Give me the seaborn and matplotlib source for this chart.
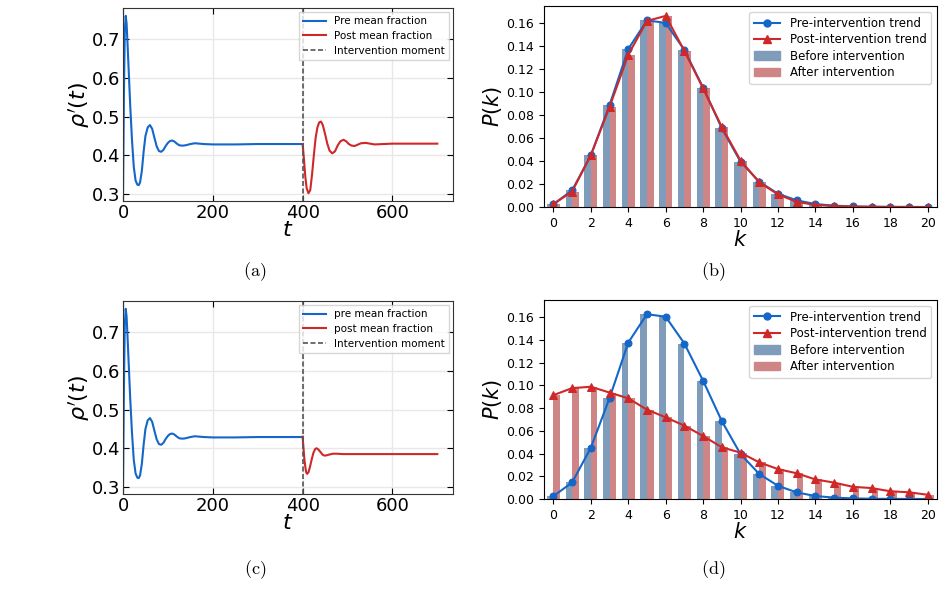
import numpy as np
import pandas as pd
import seaborn as sns
import matplotlib
matplotlib.use('Agg')
from matplotlib import pyplot as plt
from matplotlib.lines import Line2D
from matplotlib.patches import Patch

# time series (mean fraction rho'(t))
pre_t = [0, 2, 4, 6, 8, 10, 13, 16, 20, 24, 28, 32, 35, 38, 42, 46, 50, 55, 60, 65,
         70, 75, 80, 85, 90, 95, 100, 105, 110, 115, 120, 125, 130, 135, 140, 150,
         160, 170, 180, 200, 250, 300, 350, 400]
pre_v = [0.29, 0.55, 0.72, 0.76, 0.74, 0.69, 0.61, 0.53, 0.44, 0.37, 0.335, 0.324, 0.323,
         0.33, 0.36, 0.41, 0.45, 0.472, 0.478, 0.468, 0.445, 0.423, 0.411, 0.409, 0.414,
         0.424, 0.432, 0.437, 0.438, 0.435, 0.43, 0.426, 0.425, 0.425, 0.426, 0.429,
         0.431, 0.430, 0.429, 0.428, 0.428, 0.429, 0.429, 0.429]

post_t_a = [400, 403, 406, 409, 413, 417, 421, 425, 429, 433, 437, 441, 445, 450, 455,
            460, 466, 472, 478, 484, 491, 497, 503, 509, 516, 522, 530, 541, 550, 560,
            580, 600, 700]
post_v_a = [0.429, 0.39, 0.345, 0.315, 0.302, 0.31, 0.35, 0.40, 0.445, 0.472, 0.485,
            0.487, 0.478, 0.455, 0.43, 0.412, 0.405, 0.41, 0.425, 0.436, 0.44, 0.436,
            0.429, 0.425, 0.424, 0.427, 0.431, 0.432, 0.43, 0.428, 0.429, 0.43, 0.43]

post_t_c = [400, 402, 404, 406, 408, 410, 413, 416, 420, 424, 428, 431, 435, 440, 445,
            449, 454, 460, 468, 476, 490, 520, 600, 700]
post_v_c = [0.430, 0.40, 0.372, 0.352, 0.338, 0.334, 0.338, 0.35, 0.37, 0.388, 0.398,
            0.40, 0.397, 0.39, 0.383, 0.381, 0.382, 0.384, 0.386, 0.386, 0.385, 0.385,
            0.385, 0.385]

# degree distributions P(k)
k = list(range(21))
pk_before = [0.0025, 0.0145, 0.045, 0.0887, 0.1375, 0.1625, 0.1603, 0.1367, 0.104, 0.0685,
             0.0395, 0.022, 0.0116, 0.0058, 0.0026, 0.0012, 0.0005, 0.0002, 0.0001,
             0.00005, 0.00002]
pk_after_b = [0.0025, 0.0135, 0.045, 0.087, 0.1325, 0.162, 0.1664, 0.136, 0.1033, 0.0698,
              0.0405, 0.0215, 0.011, 0.0045, 0.0018, 0.0008, 0.0004, 0.0002, 0.0001,
              0.00005, 0.00002]
pk_after_d = [0.0913, 0.0975, 0.0987, 0.0936, 0.0885, 0.0786, 0.0718, 0.0645, 0.0554,
              0.0455, 0.0407, 0.0322, 0.0263, 0.0226, 0.0172, 0.0144, 0.0107, 0.0096,
              0.0068, 0.0059, 0.0037]

blue_line = '#1466c8'
red_line = '#d02828'
blue_bar = '#7f9dba'
red_bar = '#cf8585'

fig = plt.figure(figsize=(9.44, 6.08), dpi=100)
ax_a = fig.add_axes([0.1303, 0.6694, 0.3496, 0.3174])
ax_b = fig.add_axes([0.5763, 0.6595, 0.4163, 0.3306])
ax_c = fig.add_axes([0.1303, 0.1875, 0.3496, 0.3174])
ax_d = fig.add_axes([0.5763, 0.1793, 0.4163, 0.3273])


def time_panel(ax, post_t, post_v, labels):
    sns.lineplot(x=pre_t, y=pre_v, ax=ax, color=blue_line, lw=1.5, label=labels[0])
    sns.lineplot(x=post_t, y=post_v, ax=ax, color=red_line, lw=1.5, label=labels[1])
    ax.axvline(400, color='#555555', ls=(0, (3, 1.5)), lw=1.2, label='Intervention moment')
    ax.set_xlim(0, 735)
    ax.set_ylim(0.282, 0.78)
    ax.set_xticks([0, 200, 400, 600])
    ax.set_yticks([0.3, 0.4, 0.5, 0.6, 0.7])
    ax.grid(True, color='#e8e8e8', lw=1)
    ax.tick_params(direction='in', top=True, right=True, labelsize=13, length=4, pad=2)
    for s in ax.spines.values():
        s.set_color('#333333')
    ax.set_xlabel(r'$t$', fontsize=16, labelpad=-1)
    ax.set_ylabel(r"$\rho^{\prime}(t)$", fontsize=16, labelpad=0)
    ax.legend(loc='upper right', fontsize=7.5, handlelength=2.2, borderaxespad=0.4,
              labelspacing=0.45, edgecolor='#cccccc', fancybox=False)


def degree_panel(ax, after):
    df = pd.DataFrame({'k': k + k, 'P': pk_before + after,
                       'group': ['Before intervention'] * 21 + ['After intervention'] * 21})
    sns.barplot(data=df, x='k', y='P', hue='group', width=0.7, saturation=1,
                palette=[blue_bar, red_bar], errorbar=None, ax=ax, legend=False)
    sns.lineplot(x=k, y=pk_before, ax=ax, color=blue_line, marker='o', markersize=5,
                 markeredgecolor=blue_line, lw=1.5)
    sns.lineplot(x=k, y=after, ax=ax, color=red_line, marker='^', markersize=6,
                 markeredgecolor=red_line, lw=1.5)
    ax.set_xlim(-0.5, 20.5)
    ax.set_ylim(0, 0.175)
    ax.set_xticks(range(0, 21, 2))
    ax.set_xticklabels([str(i) for i in range(0, 21, 2)])
    ax.set_yticks(np.arange(0, 0.161, 0.02))
    ax.set_yticklabels(['%.2f' % v for v in np.arange(0, 0.161, 0.02)])
    ax.tick_params(labelsize=9)
    ax.set_xlabel(r'$k$', fontsize=15, labelpad=0)
    ax.set_ylabel(r'$P(k)$', fontsize=15, labelpad=2)
    handles = [Line2D([], [], color=blue_line, marker='o', markersize=5, lw=1.5),
               Line2D([], [], color=red_line, marker='^', markersize=6, lw=1.5),
               Patch(color=blue_bar), Patch(color=red_bar)]
    ax.legend(handles, ['Pre-intervention trend', 'Post-intervention trend',
                        'Before intervention', 'After intervention'],
              loc='upper right', fontsize=8.5, handlelength=2.2, labelspacing=0.3,
              borderaxespad=0.5)


time_panel(ax_a, post_t_a, post_v_a, ['Pre mean fraction', 'Post mean fraction'])
time_panel(ax_c, post_t_c, post_v_c, ['pre mean fraction', 'post mean fraction'])
degree_panel(ax_b, pk_after_b)
degree_panel(ax_d, pk_after_d)

for x, y, lab in [(0.270, 0.553, 'a'), (0.755, 0.553, 'b'),
                  (0.270, 0.063, 'c'), (0.755, 0.063, 'd')]:
    fig.text(x, y, r'$\mathrm{(%s)}$' % lab, fontsize=13, math_fontfamily='cm',
             ha='center', va='center')

fig.savefig('out.png', dpi=100)
